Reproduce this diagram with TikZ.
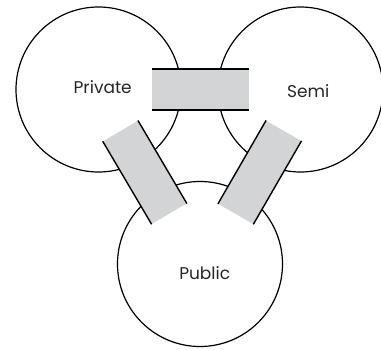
\documentclass[tikz,border=0pt]{standalone}
\usepackage{fontspec}
\setmainfont{Poppins}
\definecolor{bridgegray}{RGB}{211,212,214}
\begin{document}
\begin{tikzpicture}[x=1pt,y=1pt,
	sector/.style={circle,draw,line width=1.2pt,minimum size=165pt,inner sep=0pt},
	bridge/.style={rectangle,fill=bridgegray,minimum height=40.5pt,inner sep=0pt},
	tag/.style={font=\fontsize{17}{20}\selectfont,text=black!85,anchor=base,inner sep=0pt}]
			\useasboundingbox (0,0) rectangle (381,349);
			
			\node[sector] (priv) at (98.5,259.5) {};
			\node[sector] (semi) at (300.5,259.5) {};
			\node[sector] (pub) at (200,85) {};
			
			\foreach \nm/\x/\y/\ang/\w/\lw in {privsemi/200.5/259.5/0/97/2.2, privpub/144.8/176.6/-59.5/96/1.4, semipub/259.7/176.6/60/96/1.4}
			{
				\node[bridge,rotate=\ang,minimum width=\w pt] (\nm) at (\x,\y) {};
				\draw[line width=\lw pt] (\nm.north west) -- (\nm.north east);
				\draw[line width=\lw pt] (\nm.south west) -- (\nm.south east);
			}
			
			\node[tag] (privtxt) at ([shift={(4.2,-4.5)}]priv) {Private};
			\node[tag] (semitxt) at ([shift={(7.8,-8.2)}]semi) {Semi};
			\node[tag] (pubtxt) at ([shift={(4.7,-15)}]pub) {Public};
\end{tikzpicture}
\end{document}
